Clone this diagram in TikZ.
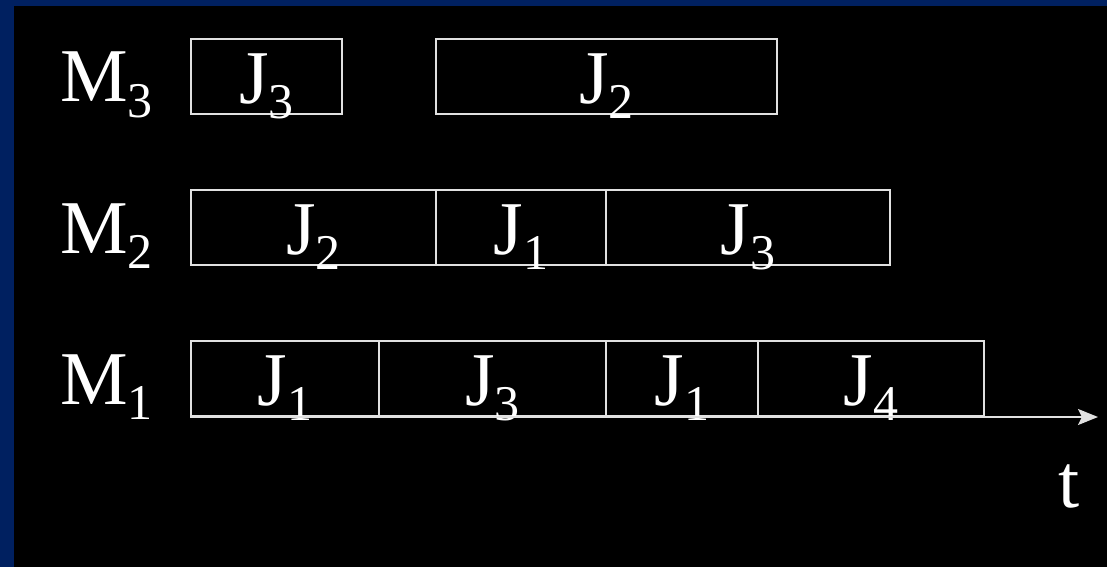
\documentclass[tikz,border=0pt]{standalone}
\usepackage{fontspec}
\setmainfont{Liberation Serif}
\usetikzlibrary{arrows.meta}
\definecolor{frameblue}{RGB}{0,32,96}
\definecolor{linegray}{RGB}{225,225,225}
\newcommand{\subidx}[2]{#1\raisebox{-0.21em}{\fontsize{50}{50}\selectfont #2}}
\begin{document}
\begin{tikzpicture}[x=1pt,y=-1pt,
  bigtext/.style={text=white,font=\fontsize{76}{80}\selectfont},
  jobbox/.style={draw=linegray,line width=2pt,bigtext,anchor=north west,inner sep=0pt,
    minimum height=75pt,text height=53pt,text depth=0pt},
  machlabel/.style={bigtext,anchor=base west,inner sep=0pt},
  axisline/.style={draw=linegray,line width=2pt,-{Stealth[length=20pt,width=16pt,inset=4pt]}}]
\useasboundingbox (0,0) rectangle (1107,567);
\fill[frameblue] (0,0) rectangle (1107,567);
\fill[black] (14,6) rectangle (1107,567);
% machine labels
\node[machlabel] (m3) at (60,102) {\subidx{M}{3}};
\node[machlabel] (m2) at (60,253) {\subidx{M}{2}};
\node[machlabel] (m1) at (60,404) {\subidx{M}{1}};
% M3 row
\node[jobbox,minimum width=151pt] (b31) at (190,38) {\subidx{J}{3}};
\node[jobbox,minimum width=341pt] (b32) at (435,38) {\subidx{J}{2}};
% M2 row
\node[jobbox,minimum width=245pt] (b21) at (190,189) {\subidx{J}{2}};
\node[jobbox,minimum width=170pt] (b22) at (435,189) {\subidx{J}{1}};
\node[jobbox,minimum width=284pt] (b23) at (605,189) {\subidx{J}{3}};
% M1 row
\node[jobbox,minimum width=188pt] (b11) at (190,340) {\subidx{J}{1}};
\node[jobbox,minimum width=227pt] (b12) at (378,340) {\subidx{J}{3}};
\node[jobbox,minimum width=152pt] (b13) at (605,340) {\subidx{J}{1}};
\node[jobbox,minimum width=226pt] (b14) at (757,340) {\subidx{J}{4}};
% time axis
\coordinate (tend) at (1098,415);
\draw[axisline] (b11.south west) -- (b11.south west -| tend);
\node[machlabel] (tlabel) at (1058,507) {t};
\end{tikzpicture}
\end{document}
